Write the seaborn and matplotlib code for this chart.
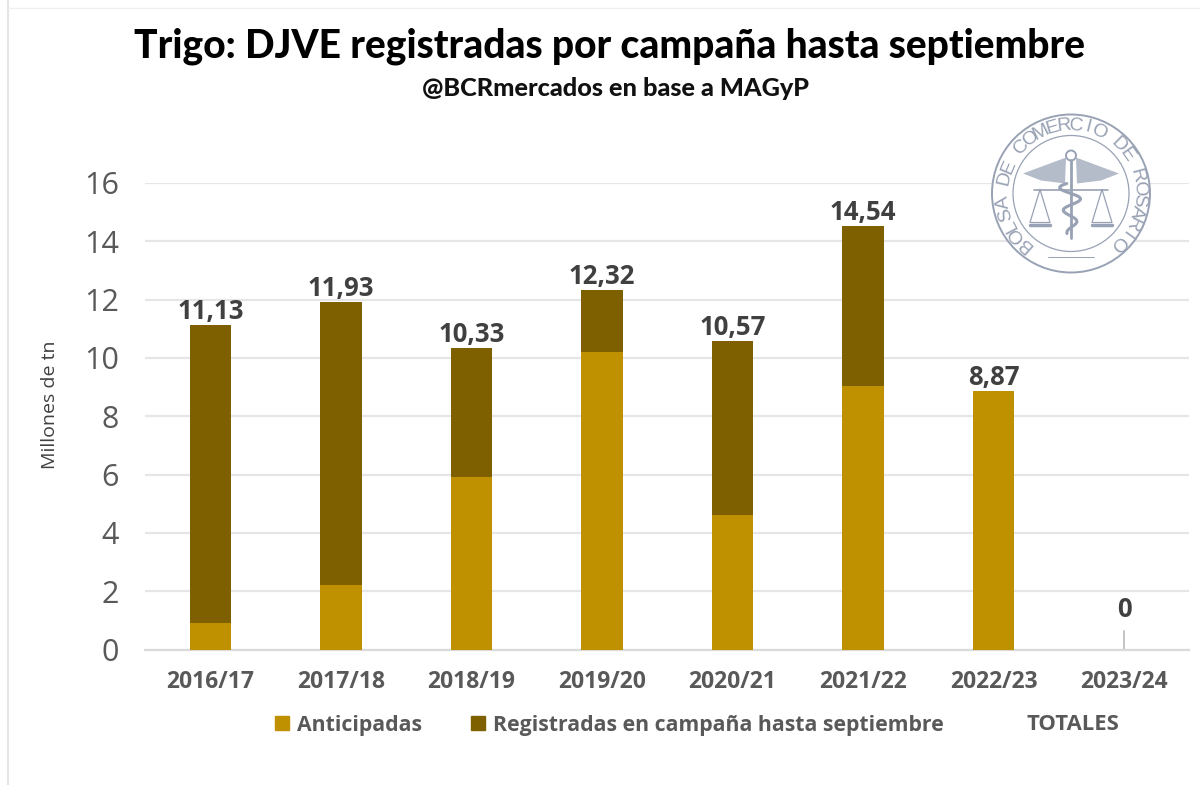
import numpy as np
import pandas as pd
import seaborn as sns
import matplotlib
matplotlib.use("Agg")
import matplotlib.pyplot as plt
from matplotlib.patches import Circle, Polygon, Patch

campaigns = ["2016/17", "2017/18", "2018/19", "2019/20", "2020/21", "2021/22", "2022/23", "2023/24"]
anticipadas = [0.9, 2.2, 5.9, 10.2, 4.6, 9.05, 8.87, 0]
totales = [11.13, 11.93, 10.33, 12.32, 10.57, 14.54, 8.87, 0]
total_labels = ["11,13", "11,93", "10,33", "12,32", "10,57", "14,54", "8,87", "0"]
GOLD, BROWN = "#BF9000", "#7F6000"
GRID, TXT, LOGO = "#E6E6E6", "#404040", "#98A2B4"

sns.set_theme(style="white")
plt.rcParams["font.family"] = ["Open Sans", "DejaVu Sans"]

df = pd.DataFrame({"campana": campaigns, "anticipadas": anticipadas, "totales": totales})
W, H = 1200, 785
fig = plt.figure(figsize=(W / 100, H / 100), dpi=100, facecolor="white")
ax = fig.add_axes([145.3 / W, 1 - 649.5 / H, (1189.3 - 145.3) / W, (649.5 - 183) / H])

sns.barplot(data=df, x="campana", y="totales", color=BROWN, width=0.315, saturation=1, ax=ax,
            zorder=3, linewidth=0, edgecolor="none")
sns.barplot(data=df, x="campana", y="anticipadas", color=GOLD, width=0.315, saturation=1, ax=ax,
            zorder=4, linewidth=0, edgecolor="none")

ax.set_ylim(0, 16)
ax.set_xlim(-0.5, 7.5)
ax.set_yticks(range(0, 17, 2))
ax.yaxis.grid(True, color=GRID, lw=1.6, zorder=0)
ax.set_axisbelow(True)
for s in ["top", "right", "left"]:
    ax.spines[s].set_visible(False)
ax.spines["bottom"].set_color("#DADADA")
ax.spines["bottom"].set_linewidth(1.6)
ax.tick_params(axis="y", length=0, pad=19, labelsize=22, labelcolor="#595959")
ax.tick_params(axis="x", length=0, pad=15)
ax.set_xlabel("")
ax.set_ylabel("Millones de tn", fontsize=14, color=TXT)
ax.yaxis.set_label_coords(-0.0825, 0.525)
for lab in ax.get_xticklabels():
    lab.set_fontsize(16.5)
    lab.set_fontweight("bold")
    lab.set_color("#595959")

for i, (t, s) in enumerate(zip(totales, total_labels)):
    if t > 0:
        ax.annotate(s, (i, t), xytext=(0, 0), textcoords="offset points", ha="center", va="bottom",
                    fontsize=18.5, fontweight="bold", color=TXT)
    else:
        ax.plot([i, i], [0, 0.62], color="#BFBFBF", lw=1.3, zorder=2)
        ax.annotate(s, (i, 0.9), ha="center", va="bottom", fontsize=18.5, fontweight="bold", color=TXT)

handles = [Patch(color=GOLD), Patch(color=BROWN)]
leg = fig.legend(handles, ["Anticipadas", "Registradas en campaña hasta septiembre"],
                 loc="center left", bbox_to_anchor=(275 / W, 1 - 725 / H), ncol=2, frameon=False,
                 handlelength=0.66, handleheight=0.66, handletextpad=0.38, columnspacing=2.3,
                 prop={"size": 15.3, "weight": "bold"}, labelcolor="#595959", borderpad=0, borderaxespad=0)
fig.text(1073 / W, 1 - 725 / H, "TOTALES", ha="center", va="center", fontsize=15.8,
         fontweight="bold", color="#595959")

fig.text(610 / W, 1 - 46 / H, "Trigo: DJVE registradas por campaña hasta septiembre", ha="center", va="center",
         fontsize=28, fontweight="black", color="black", family=["Lato", "Liberation Sans"])
fig.text(615 / W, 1 - 88 / H, "@BCRmercados en base a MAGyP", ha="center", va="center",
         fontsize=18.2, fontweight="black", color="#111111", family=["Lato", "Liberation Sans"])

# overlay in pixel coordinates: page frame and logo stamp
ov = fig.add_axes([0, 0, 1, 1], zorder=10)
ov.set_xlim(0, W)
ov.set_ylim(H, 0)
ov.axis("off")
ov.plot([8, 8], [0, H], color="#E4E4E4", lw=1.5)
ov.plot([8, W], [8, 8], color="#F0F0F0", lw=1)

cx, cy = 1071, 193.5
ov.add_patch(Circle((cx, cy), 79, fc="white", ec=LOGO, lw=1.4))
ov.add_patch(Circle((cx, cy), 58, fc="white", ec=LOGO, lw=0.9))
stamp = "BOLSA DE COMERCIO DE ROSARIO"
angles = np.linspace(-138, 136, len(stamp))
for ch, a in zip(stamp, angles):
    r = np.deg2rad(a)
    ov.text(cx + 68 * np.sin(r), cy - 68 * np.cos(r), ch, rotation=-a, rotation_mode="anchor",
            ha="center", va="center", fontsize=14, color=LOGO, family="Liberation Sans")
# wings
ov.add_patch(Polygon([[cx - 5, cy - 36], [cx - 48, cy - 20], [cx - 30, cy - 13], [cx - 6, cy - 10]], fc="#B4BCCA", ec="none"))
ov.add_patch(Polygon([[cx + 5, cy - 36], [cx + 48, cy - 20], [cx + 30, cy - 13], [cx + 6, cy - 10]], fc="#B4BCCA", ec="none"))
# staff, head and snake
ov.plot([cx, cx], [cy - 34, cy + 44], color=LOGO, lw=2)
ov.add_patch(Circle((cx, cy - 38), 5, fc="none", ec=LOGO, lw=1.4))
ys = np.linspace(cy - 10, cy + 40, 100)
ov.plot(cx + 12 * np.sin((ys - cy) / 3.6) * (1 - (ys - cy + 10) / 75), ys, color=LOGO, lw=2.2)
# scales
ov.plot([cx - 37, cx + 37], [cy - 4, cy - 4], color=LOGO, lw=1.2)
for sx in (-1, 1):
    px = cx + sx * 31
    ov.plot([px, px - 10, px + 10, px], [cy - 4, cy + 29, cy + 29, cy - 4], color=LOGO, lw=0.9)
    ov.plot([px - 10, px + 10], [cy + 31, cy + 31], color=LOGO, lw=2.5)
ov.plot([cx - 23, cx + 23], [cy + 63, cy + 63], color=LOGO, lw=0.7)

fig.savefig("out.png", dpi=100, facecolor="white")
